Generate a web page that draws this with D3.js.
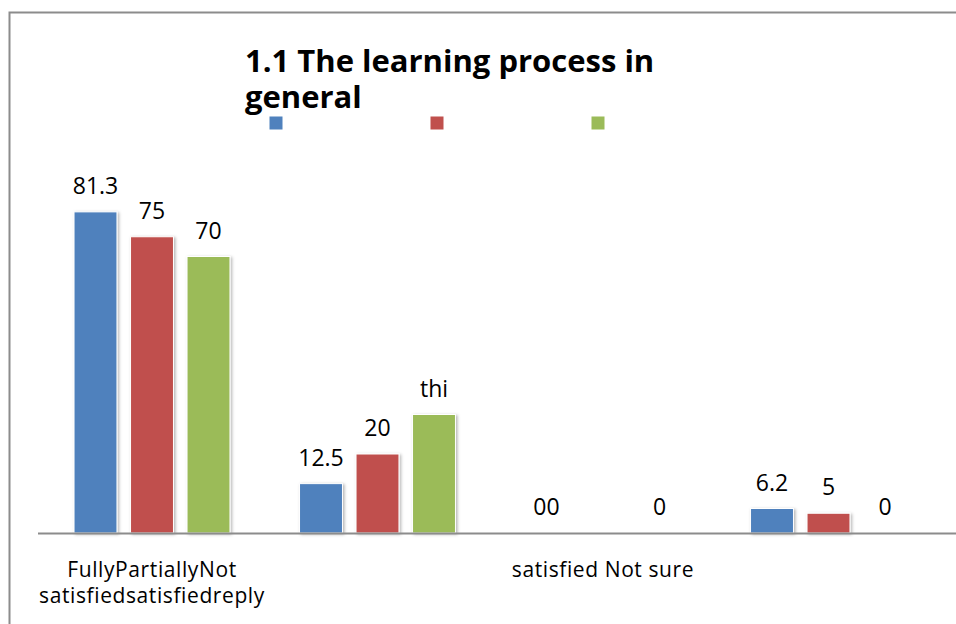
<!DOCTYPE html>
<html>
<head>
<meta charset="utf-8">
<script src="https://cdn.jsdelivr.net/npm/d3@7"></script>
<style>
  body { margin: 0; background: #fff; }
  text { font-family: "Open Sans", Lato, sans-serif; fill: #000; }
</style>
</head>
<body>
<div id="chart"></div>
<script>
(function () {

  // Data
  const categories = ["Fully satisfied", "Partially satisfied", "Not satisfied", "Not sure"]
  const seriesNames = ["", "", ""]
  const blueValues = [81.3, 12.5, 0, 6.2]
  const redValues = [75, 20, 0, 5]
  const greenValues = [70, 30, 0, 0]
  const blueLabels = ["81.3", "12.5", "00", "6.2"]
  const redLabels = ["75", "20", "", "5"]
  const greenLabels = ["70", "thi", "0", "0"]
  const tickLabels = [["FullyPartiallyNot", "satisfiedsatisfiedreply"], [], ["satisfied Not sure"], []]
  const titleLines = ["1.1 The learning process in", "general"]

  const colors = ["#4F81BD", "#C0504D", "#9BBB59"]

  const width = 956
  const height = 624

  const series = [
    { name: seriesNames[0], values: blueValues, labels: blueLabels },
    { name: seriesNames[1], values: redValues, labels: redLabels },
    { name: seriesNames[2], values: greenValues, labels: greenLabels }
  ]

  const svg = d3.select("#chart").append("svg")
    .attr("width", width)
    .attr("height", height)

  // Bar shadow
  const filter = svg.append("defs").append("filter")
    .attr("id", "shadow")
    .attr("x", "-20%").attr("y", "-20%")
    .attr("width", "140%").attr("height", "140%")
  filter.append("feDropShadow")
    .attr("dx", 1.5).attr("dy", 1)
    .attr("stdDeviation", 1.5)
    .attr("flood-color", "#000")
    .attr("flood-opacity", 0.3)

  // Outer frame
  svg.append("rect")
    .attr("x", 9.5).attr("y", 12.5)
    .attr("width", 1000).attr("height", 700)
    .attr("fill", "none")
    .attr("stroke", "#8c8c8c")
    .attr("stroke-width", 2)

  // Scales
  const xScale = d3.scaleBand()
    .domain(categories)
    .range([39.25, 941.25])

  const xSub = d3.scaleBand()
    .domain(d3.range(series.length))
    .range([28, 197.5])
    .paddingInner(0.24)
    .paddingOuter(0.12)

  const yScale = d3.scaleLinear()
    .domain([0, 100])
    .range([533, 138])

  // Title
  svg.append("text")
    .attr("x", 245)
    .attr("y", 72)
    .attr("font-size", 31)
    .attr("font-weight", "bold")
    .selectAll("tspan")
    .data(titleLines)
    .join("tspan")
    .attr("x", 245)
    .attr("dy", (d, i) => i === 0 ? 0 : 36)
    .text(d => d)

  // Legend (names are blank in the source)
  const legend = svg.append("g")
    .selectAll("g")
    .data(series)
    .join("g")
    .attr("transform", (d, i) => `translate(${269.5 + i * 161}, 116.5)`)
  legend.append("rect")
    .attr("width", 13).attr("height", 13)
    .attr("fill", (d, i) => colors[i])
  legend.append("text")
    .attr("x", 18).attr("y", 11)
    .attr("font-size", 16)
    .text(d => d.name)

  // Bars
  const groups = svg.append("g")
    .selectAll("g")
    .data(series)
    .join("g")
    .attr("fill", (d, i) => colors[i])

  groups.each(function (s, si) {
    const g = d3.select(this)
    g.selectAll("rect")
      .data(s.values)
      .join("rect")
      .attr("x", (d, i) => xScale(categories[i]) + xSub(si))
      .attr("width", xSub.bandwidth())
      .attr("y", d => yScale(d))
      .attr("height", d => yScale(0) - yScale(d))
      .attr("stroke", "#fff")
      .attr("stroke-width", 1)
      .attr("filter", "url(#shadow)")
      .style("display", d => d === 0 ? "none" : null)

    g.selectAll("text")
      .data(s.labels)
      .join("text")
      .attr("x", (d, i) => xScale(categories[i]) + xSub(si) + xSub.bandwidth() / 2)
      .attr("y", (d, i) => yScale(s.values[i]) - 18)
      .attr("text-anchor", "middle")
      .attr("font-size", 23)
      .attr("fill", "#000")
      .text(d => d)
  })

  // X axis line
  svg.append("line")
    .attr("x1", 38).attr("x2", width)
    .attr("y1", yScale(0) + 0.5).attr("y2", yScale(0) + 0.5)
    .attr("stroke", "#8c8c8c")
    .attr("stroke-width", 2)

  // Category labels
  const ticks = svg.append("g")
    .selectAll("text")
    .data(tickLabels)
    .join("text")
    .attr("text-anchor", "middle")
    .attr("font-size", 21)
    .attr("letter-spacing", 0.6)
    .attr("y", 577)

  ticks.selectAll("tspan")
    .data((d, i) => d.map(line => ({ line, i })))
    .join("tspan")
    .attr("x", d => xScale(categories[d.i]) + xScale.bandwidth() / 2)
    .attr("dy", (d, j) => j === 0 ? 0 : 26)
    .text(d => d.line)

})();
</script>
</body>
</html>
